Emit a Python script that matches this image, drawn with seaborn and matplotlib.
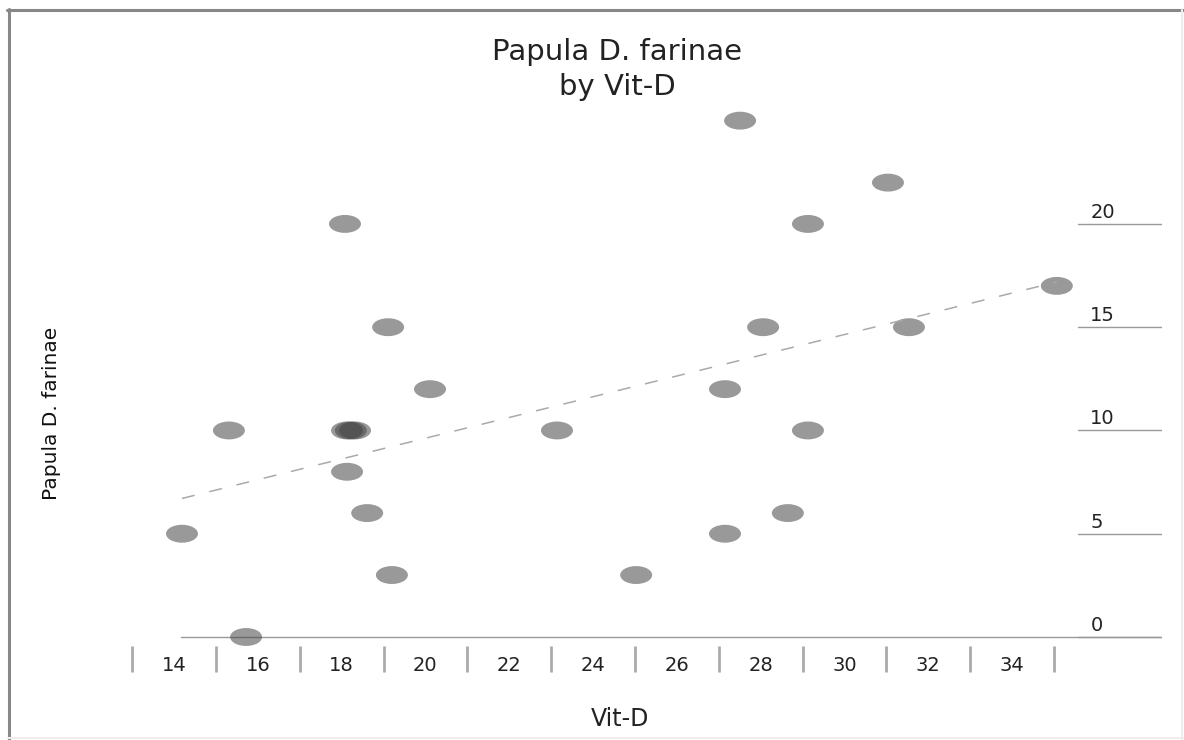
import numpy as np
import matplotlib
matplotlib.use("Agg")
import matplotlib.pyplot as plt
import matplotlib.path as mpath
from matplotlib.lines import Line2D
from matplotlib.transforms import Affine2D, ScaledTranslation
import seaborn as sns

# values
vit_d = [27.51, 31.04, 18.08, 29.13, 35.07, 19.11, 28.06, 31.54, 20.11, 27.15,
         15.31, 18.13, 18.22, 18.32, 23.14, 29.13, 18.13, 18.61, 28.65, 14.19,
         27.15, 19.20, 25.03, 15.72]
papula = [25, 22, 20, 20, 17, 15, 15, 15, 12, 12,
          10, 10, 10, 10, 10, 10, 8, 6, 6, 5,
          5, 3, 3, 0]

x_label_ticks = [14, 16, 18, 20, 22, 24, 26, 28, 30, 32, 34]
x_bar_ticks = [13, 15, 17, 19, 21, 23, 25, 27, 29, 31, 33, 35]
y_ticks = [0, 5, 10, 15, 20]

title = "Papula D. farinae\nby Vit-D"
x_name = "Vit-D"
y_name = "Papula D. farinae"

sns.set_theme(style="white")
plt.rcParams["font.family"] = ["DejaVu Sans"]
plt.rcParams["lines.scale_dashes"] = False

W, H = 1184, 740
fig = plt.figure(figsize=(W / 100, H / 100), dpi=100)
ax = fig.add_axes([125 / W, 1 - 646 / H, (1162 - 125) / W, (646 - 100) / H])

# wide ellipse marker like the stretched dots of the reference
ellipse = mpath.Path.unit_circle().transformed(Affine2D().scale(1.0, 0.56))

sns.scatterplot(x=vit_d, y=papula, ax=ax, marker=ellipse, s=530,
                color="#434343", alpha=0.54, edgecolor="none", linewidth=0)
sns.regplot(x=vit_d, y=papula, ax=ax, scatter=False, ci=None, truncate=True,
            color="#aaaaaa", line_kws={"ls": (0, (9.4, 10.8)), "lw": 1.1})

ax.set_xlim(12.83, 37.58)
ax.set_ylim(-0.436, 26.0)
for s in ax.spines.values():
    s.set_visible(False)

# x axis: bars at odd values, labels at even values
ax.set_xticks(x_bar_ticks, labels=[""] * len(x_bar_ticks))
ax.set_xticks(x_label_ticks, labels=[str(v) for v in x_label_ticks], minor=True)
ax.tick_params(axis="x", which="major", bottom=True, direction="out",
               length=18.7, width=2.0, color="#aaaaaa")
ax.tick_params(axis="x", which="minor", bottom=True, length=0, pad=7,
               labelsize=14, labelcolor="#222222")

# y axis: labels on the right, sitting on short rule lines
ax.set_yticks(y_ticks, labels=[str(v) for v in y_ticks])
ax.tick_params(axis="y", left=False, right=False, labelleft=False,
               labelright=True, pad=-57.6, labelsize=14, labelcolor="#222222")
off = ScaledTranslation(0, 6 / 100, fig.dpi_scale_trans)
for lab in ax.get_yticklabels():
    lab.set_verticalalignment("baseline")
    lab.set_transform(lab.get_transform() + off)

for v in y_ticks:
    ax.axhline(v, xmin=0.919, xmax=1.0, color="#999999", lw=1.0, zorder=0)
ax.axhline(0, xmin=0.054, xmax=1.0, color="#999999", lw=1.0, zorder=0)

ax.set_xlabel(x_name, fontsize=17, color="#222222")
ax.xaxis.set_label_coords((620 - 125) / 1037, (646 - 719) / 546)
ax.xaxis.label.set_verticalalignment("center")
ax.set_ylabel(y_name, fontsize=14.5, color="#111111")
ax.yaxis.set_label_coords((52 - 125) / 1037, (646 - 413) / 546)
ax.yaxis.label.set_verticalalignment("center")

fig.suptitle(title, x=617 / W, y=1 - 38 / H, fontsize=21, color="#222222",
             linespacing=1.3, va="top")

# grey frame round the picture
fig.add_artist(Line2D([7 / W, 1], [1 - 10 / H, 1 - 10 / H], transform=fig.transFigure,
                      color="#888888", lw=2.2))
fig.add_artist(Line2D([8.5 / W, 8.5 / W], [0, 1 - 9 / H], transform=fig.transFigure,
                      color="#888888", lw=2.2))
fig.add_artist(Line2D([1182 / W, 1182 / W], [0, 1 - 10 / H], transform=fig.transFigure,
                      color="#eeeeee", lw=1.5))
fig.add_artist(Line2D([8 / W, 1], [2 / H, 2 / H], transform=fig.transFigure,
                      color="#eeeeee", lw=1.5))

fig.savefig("out.png", dpi=100)
